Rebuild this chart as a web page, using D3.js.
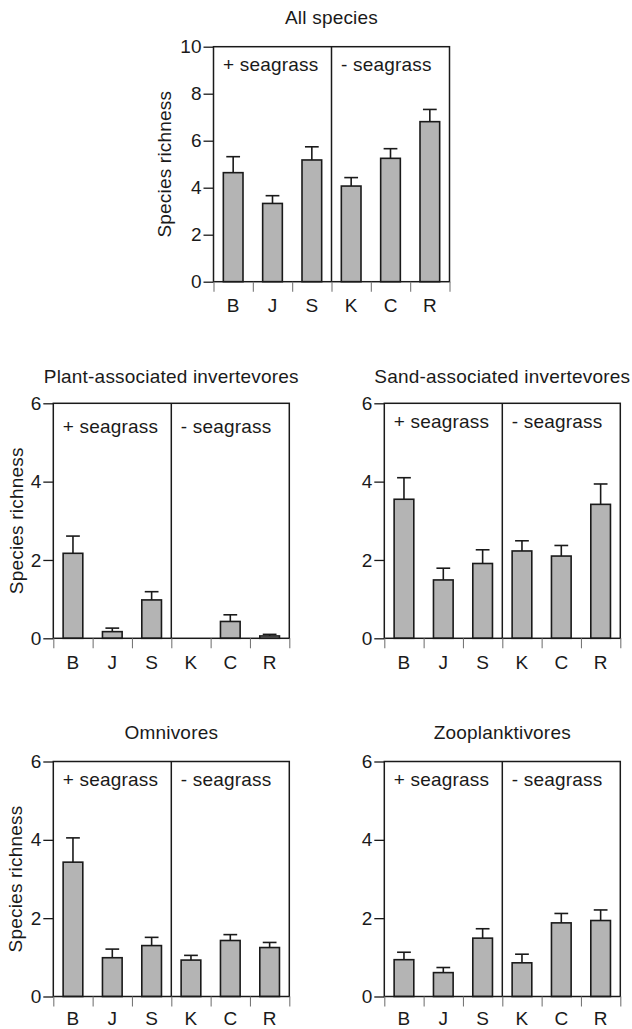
<!DOCTYPE html>
<html>
<head>
<meta charset="utf-8">
<script src="https://cdn.jsdelivr.net/npm/d3@7"></script>
<style>
  body { margin: 0; background: #fff; }
  svg text { font-family: "Liberation Sans", Arial, Helvetica, sans-serif; fill: #1a1a1a; }
</style>
</head>
<body>
<svg id="chart" width="632" height="1029"></svg>
<script>
// Sites, grouped by habitat
var sites = ["B", "J", "S", "K", "C", "R"];
var groupLabels = ["+ seagrass", "- seagrass"];

// Panel titles
var titles = ["All species", "Plant-associated invertevores", "Sand-associated invertevores", "Omnivores", "Zooplanktivores"];

// Mean species richness and standard error
var allMean   = [4.64, 3.33, 5.18, 4.07, 5.25, 6.81];
var allSE     = [0.68, 0.33, 0.56, 0.36, 0.41, 0.52];
var plantMean = [2.17, 0.17, 0.98, 0.00, 0.43, 0.06];
var plantSE   = [0.44, 0.09, 0.21, 0.00, 0.17, 0.04];
var sandMean  = [3.55, 1.49, 1.91, 2.23, 2.10, 3.42];
var sandSE    = [0.55, 0.30, 0.35, 0.26, 0.27, 0.52];
var omniMean  = [3.43, 0.99, 1.30, 0.93, 1.43, 1.25];
var omniSE    = [0.62, 0.22, 0.21, 0.12, 0.15, 0.13];
var zooMean   = [0.94, 0.61, 1.49, 0.86, 1.88, 1.94];
var zooSE     = [0.19, 0.13, 0.24, 0.22, 0.24, 0.27];

// y tick values
var ticksAll = [0, 2, 4, 6, 8, 10];
var ticksGuild = [0, 2, 4, 6];

// layout of each panel (left, top, title offset, group-label offset, y label?)
var panels = [
  {title: titles[0], mean: allMean,   se: allSE,   ticks: ticksAll,   left: 213.5, top: 46.7,  titleDy: 22.7, labDy: 24.5, ylab: true,  ylabDx: 42.7, xPad: 17},
  {title: titles[1], mean: plantMean, se: plantSE, ticks: ticksGuild, left: 53.3,  top: 403.3, titleDy: 20,   labDy: 30,   ylab: true,  ylabDx: 30.8, xPad: 17},
  {title: titles[2], mean: sandMean,  se: sandSE,  ticks: ticksGuild, left: 384.3, top: 403.3, titleDy: 20,   labDy: 25,   ylab: false, xPad: 17},
  {title: titles[3], mean: omniMean,  se: omniSE,  ticks: ticksGuild, left: 53.3,  top: 761.5, titleDy: 22.4, labDy: 24.5, ylab: true,  ylabDx: 31.6, xPad: 15},
  {title: titles[4], mean: zooMean,   se: zooSE,   ticks: ticksGuild, left: 384.3, top: 761.5, titleDy: 22.4, labDy: 24.5, ylab: false, xPad: 15}
];

var W = 236, H = 235;
var ink = "#1a1a1a";
var svg = d3.select("#chart");

panels.forEach(function(p){
  var g = svg.append("g").attr("transform", "translate(" + p.left + "," + p.top + ")");

  var x = d3.scaleBand().domain(sites).range([0, W]).paddingInner(0.5).paddingOuter(0.25);
  var edges = d3.scaleLinear().domain([0, sites.length]).range([0, W]);
  var y = d3.scaleLinear().domain([0, d3.max(p.ticks)]).range([H, 0]);

  // title
  g.append("text")
    .attr("x", W / 2).attr("y", -p.titleDy)
    .attr("text-anchor", "middle")
    .style("font-size", "19px").style("letter-spacing", "0.2px")
    .text(p.title);

  // bars
  var bars = sites.map(function(s, i){ return {site: s, m: p.mean[i], se: p.se[i]}; });
  g.selectAll("rect.bar").data(bars.filter(function(d){ return d.m > 0; }))
    .enter().append("rect")
      .attr("class", "bar")
      .attr("x", function(d){ return x(d.site); })
      .attr("y", function(d){ return y(d.m); })
      .attr("width", x.bandwidth())
      .attr("height", function(d){ return H - y(d.m); })
      .style("fill", "#b4b4b4")
      .style("stroke", ink)
      .style("stroke-width", 1.6);

  // error bars (upper only)
  var eb = g.selectAll("g.err").data(bars.filter(function(d){ return d.se > 0; }))
    .enter().append("g").attr("class", "err");
  eb.append("line")
    .attr("x1", function(d){ return x(d.site) + x.bandwidth() / 2; })
    .attr("x2", function(d){ return x(d.site) + x.bandwidth() / 2; })
    .attr("y1", function(d){ return y(d.m); })
    .attr("y2", function(d){ return y(d.m + d.se); });
  eb.append("line")
    .attr("x1", function(d){ return x(d.site) + x.bandwidth() * 0.15; })
    .attr("x2", function(d){ return x(d.site) + x.bandwidth() * 0.85; })
    .attr("y1", function(d){ return y(d.m + d.se); })
    .attr("y2", function(d){ return y(d.m + d.se); });
  eb.selectAll("line").style("stroke", ink).style("stroke-width", 1.6);

  // frame and divider
  g.append("rect").attr("x", 0).attr("y", 0).attr("width", W).attr("height", H)
    .style("fill", "none").style("stroke", ink).style("stroke-width", 1.5);
  g.append("line")
    .attr("x1", edges(3)).attr("x2", edges(3)).attr("y1", 0).attr("y2", H)
    .style("stroke", ink).style("stroke-width", 1.5);

  // y axis
  var yAxis = g.append("g")
    .call(d3.axisLeft(y).tickValues(p.ticks).tickSize(10).tickPadding(2).tickFormat(d3.format("d")));
  yAxis.select(".domain").remove();
  yAxis.selectAll("line").style("stroke", ink).style("stroke-width", 1.3);
  yAxis.selectAll("text").style("font-size", "19px").style("fill", ink).attr("font-family", null);

  // x ticks at band edges
  var xTicks = g.append("g").attr("transform", "translate(0," + H + ")")
    .call(d3.axisBottom(edges).tickValues(d3.range(sites.length + 1)).tickSize(10).tickFormat(""));
  xTicks.select(".domain").remove();
  xTicks.selectAll("line").style("stroke", "#777").style("stroke-width", 1.1);

  // x labels
  var xLab = g.append("g").attr("transform", "translate(0," + H + ")")
    .call(d3.axisBottom(x).tickSize(0).tickPadding(p.xPad));
  xLab.select(".domain").remove();
  xLab.selectAll("text").style("font-size", "19px").style("fill", ink).attr("font-family", null);

  // habitat labels
  g.selectAll("text.grp").data(groupLabels).enter().append("text")
    .attr("class", "grp")
    .attr("x", function(d, i){ return edges(i * 3) + 9.5; })
    .attr("y", p.labDy)
    .style("font-size", "19px").style("letter-spacing", "0.2px")
    .text(function(d){ return d; });

  // y label
  if (p.ylab) {
    g.append("text")
      .attr("transform", "translate(" + (-p.ylabDx) + "," + (H / 2) + ") rotate(-90)")
      .attr("text-anchor", "middle")
      .style("font-size", "19px").style("letter-spacing", "0.2px")
      .text("Species richness");
  }
});
</script>
</body>
</html>
